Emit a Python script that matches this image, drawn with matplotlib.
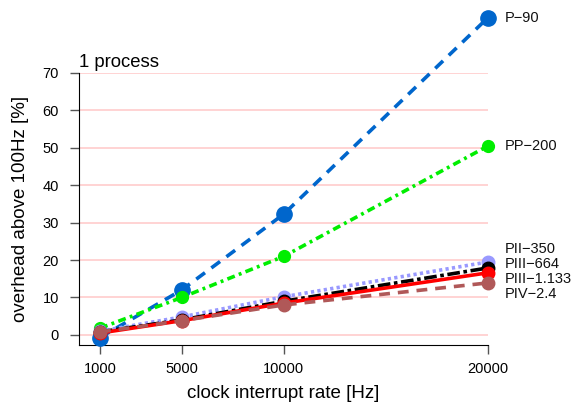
import matplotlib
matplotlib.use("Agg")
import matplotlib.pyplot as plt

plt.rcParams["font.family"] = ["Liberation Sans", "DejaVu Sans"]

rates = [1000, 5000, 10000, 20000]
series_names = ["P\u221290", "PP\u2212200", "PII\u2212350", "PIII\u2212664", "PIII\u22121.133", "PIV\u22122.4"]
p90 = [-0.7, 12.0, 32.3, 84.8]
pp200 = [1.8, 10.0, 21.0, 50.5]
pii350 = [1.0, 4.8, 10.2, 19.5]
piii664 = [0.8, 4.0, 9.0, 17.9]
piii1133 = [0.5, 3.8, 8.5, 16.6]
piv24 = [0.8, 3.8, 8.0, 13.9]
label_y = [84.8, 50.5, 23.0, 19.0, 15.0, 11.0]
yticks = [0, 10, 20, 30, 40, 50, 60, 70]
xticks = [1000, 5000, 10000, 20000]

values = [p90, pp200, pii350, piii664, piii1133, piv24]
colors = ["#0066CC", "#00EE00", "#9999FF", "#000000", "#FF0000", "#B05858"]
styles = [(0, (3, 2.2)), (0, (2.2, 1.2, 0.8, 1.2)), (0, (0.9, 0.9)), (0, (3.5, 1, 1, 1)), "-", (0, (3, 2.2))]
msizes = [11, 8.5, 9, 9, 9, 9]

fig = plt.figure(figsize=(5.73, 4.09), dpi=100)
ax = fig.add_axes([79/573, 1 - 345/409, (488-79)/573, (345-73)/409])
ax.set_xlim(-30, 20000)
ax.set_ylim(-2.7, 70)

for t in yticks:
    ax.axhline(t, color="#FFCCCC", lw=1.2, zorder=0)

for name, v, c, ls, ms, ly in zip(series_names, values, colors, styles, msizes, label_y):
    ax.plot(rates, v, color=c, linestyle=ls, lw=2.6, marker="o", markersize=ms,
            clip_on=False, zorder=3)
    ax.text(20800, ly, name, fontsize=10.5, va="center", ha="left", clip_on=False,
            color="#111111")

ax.spines["top"].set_visible(False)
ax.spines["right"].set_visible(False)
ax.spines["left"].set_bounds(-2.7, 70)
ax.spines["bottom"].set_bounds(-30, 20000)
ax.set_xticks(xticks)
ax.set_xticklabels([str(x) for x in xticks])
ax.set_yticks(yticks)
ax.tick_params(axis="both", labelsize=10.5, length=6.5, width=1, color="#555555")
ax.tick_params(axis="x", pad=6)
ax.tick_params(axis="y", pad=8)
ax.set_xlabel("clock interrupt rate [Hz]", fontsize=13.5, labelpad=6)
ax.set_ylabel("overhead above 100Hz [%]", fontsize=13.5, labelpad=10)
ax.text(-30, 70.5, "1 process", fontsize=13.3, ha="left", va="bottom")

fig.savefig("out.png", dpi=100)
